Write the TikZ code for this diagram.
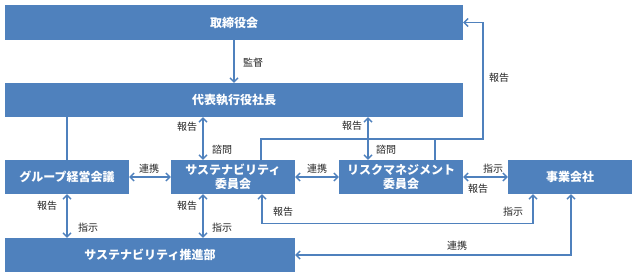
\documentclass[tikz,border=0pt]{standalone}
\usepackage{fontspec}
\setmainfont{Noto Sans CJK JP}
\usetikzlibrary{arrows.meta,calc}
\definecolor{boxblue}{HTML}{4F81BD}
\definecolor{lbl}{HTML}{262626}
\begin{document}
\begin{tikzpicture}[x=1pt,y=-1pt,
  box/.style={fill=boxblue, text=white, font=\bfseries\fontsize{12}{14}\selectfont, inner sep=0pt, align=center, minimum height=34pt},
  ln/.style={draw=boxblue, line width=1.4pt},
  one/.style={ln, -{Straight Barb[length=4pt,width=8pt,line width=1.4pt]}},
  two/.style={ln, {Straight Barb[length=4pt,width=8pt,line width=1.4pt]}-{Straight Barb[length=4pt,width=8pt,line width=1.4pt]}},
  lab/.style={text=lbl, font=\fontsize{10}{12}\selectfont, inner sep=0pt}]
\useasboundingbox[fill=white] (0,0) rectangle (636,276);
% boxes
\node[box, minimum width=458pt, minimum height=35pt] (tori) at (234,22.5) {取締役会};
\node[box, minimum width=458pt] (ceo) at (234,100) {代表執行役社長};
\node[box, minimum width=124pt] (grp) at (67,177) {グループ経営会議};
\node[box, minimum width=124pt] (sus) at (233,177) {サステナビリティ\\委員会};
\node[box, minimum width=124pt] (risk) at (401,177) {リスクマネジメント\\委員会};
\node[box, minimum width=124pt] (biz) at (570,177) {事業会社};
\node[box, minimum width=290pt] (prom) at (150,255) {サステナビリティ推進部};
\coordinate (rt) at (483,139);
% connectors
\draw[one] (tori.south) -- (ceo.north);
\draw[ln] (ceo.south -| grp.north) -- (grp.north);
\draw[two] ([xshift=-30pt]sus.north) -- ([xshift=-30pt]sus.north |- ceo.south);
\draw[two] ([xshift=-33pt]risk.north) -- ([xshift=-33pt]risk.north |- ceo.south);
\draw[one] ([xshift=28pt]sus.north) |- (rt) |- (tori.east);
\draw[ln] ([xshift=34pt]risk.north) -- ([xshift=34pt]risk.north |- rt);
\draw[two] (grp.east) -- (sus.west);
\draw[two] (sus.east) -- (risk.west);
\draw[two] (risk.east) -- (biz.west);
\draw[two] (grp.south) -- (grp.south |- prom.north);
\draw[two] ([xshift=-30pt]sus.south) -- ([xshift=-30pt]sus.south |- prom.north);
\draw[two] ([xshift=29pt]sus.south) -- ++(0,29) -| ([xshift=-37pt]biz.south);
\draw[two] ([xshift=1pt]biz.south) |- (prom.east);
% labels
\node[lab] (l1) at (253,63) {監督};
\node[lab] (l2) at (187,127) {報告};
\node[lab] (l3) at (222,150) {諮問};
\node[lab] (l4) at (352,126) {報告};
\node[lab] (l5) at (386,150) {諮問};
\node[lab] (l6) at (499,78) {報告};
\node[lab] (l7) at (149,169) {連携};
\node[lab] (l8) at (317,169) {連携};
\node[lab] (l9) at (493,169) {指示};
\node[lab] (l10) at (478,189) {報告};
\node[lab] (l11) at (47,206) {報告};
\node[lab] (l12) at (88,228) {指示};
\node[lab] (l13) at (187,206) {報告};
\node[lab] (l14) at (222,228) {指示};
\node[lab] (l15) at (283,212) {報告};
\node[lab] (l16) at (513,212) {指示};
\node[lab] (l17) at (457,246) {連携};
\end{tikzpicture}
\end{document}
